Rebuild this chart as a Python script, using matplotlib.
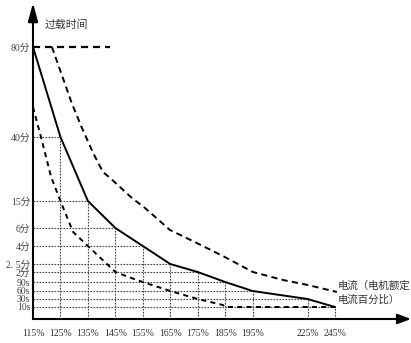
import numpy as np
import matplotlib
matplotlib.use("Agg")
import matplotlib.pyplot as plt

# ---- data ----
x_labels = ["115%", "125%", "135%", "145%", "155%", "165%", "175%", "185%", "195%", "225%", "245%"]
x_pos = [0, 1, 2, 3, 4, 5, 6, 7, 8, 10, 11]          # 195% -> 225% spans two steps

# y ticks (time in minutes) and their labels
y_ticks = [1/6, 0.5, 1, 1.5, 2, 2.5, 4, 6, 15, 40, 80]
y_labels = ["10s", "30s", "60s", "90s", "2分", "2. 5分", "4分", "6分", "15分", "40分", "80分"]

# non-uniform schematic time axis: minutes -> axis units
scale_minutes = [0, 1/6, 0.5, 1, 1.5, 2, 2.5, 4, 6, 15, 40, 80, 200]
scale_units = [0, 12, 20, 28, 37, 47, 55, 73, 91, 118, 182, 272, 542]

# solid rated curve (minutes at each current)
solid_t = [80, 40, 15, 6, 4, 2.5, 2, 1.5, 1, 0.5, 1/6]

# upper dashed curve
upper_x = [0.69, 1.41, 1.77, 2.19, 2.55, 2.81, 3.60, 4.08, 4.99, 5.97, 6.99, 8.01, 9.11, 10.02, 11.07]
upper_t = [80, 55.1, 44.4, 33.75, 26.3, 24.0, 16.2, 12.67, 5.78, 4.33, 3.08, 2.0, 1.6, 1.33, 0.94]

# lower dashed curve
lower_x = [0, 0.29, 0.66, 1.0, 1.46, 2.0, 3.0, 3.78, 4.0, 5.0, 6.0, 6.92, 7.0, 11.0]
lower_t = [53.3, 40, 24.4, 15, 5.56, 4, 2, 1.6, 1.5, 1, 0.5, 0.25, 1/6, 1/6]

# top reference line at 80 min
top_line_x = [0, 2.8]
top_line_t = [80, 80]

# ---- figure ----
W, H = 411, 343
fig = plt.figure(figsize=(W / 100, H / 100), dpi=100)
ax_left, ax_right, ax_bottom_px, ax_top_px = 33, 411, 319, 3
ax = fig.add_axes([ax_left / W, (H - ax_bottom_px) / H,
                   (ax_right - ax_left) / W, (ax_bottom_px - ax_top_px) / H])

def fwd(m):
    return np.interp(m, scale_minutes, scale_units)

def inv(u):
    return np.interp(u, scale_units, scale_minutes)

ax.set_yscale("function", functions=(fwd, inv))
ax.set_xlim(0, (ax_right - ax_left) / 27.45)
ax.set_ylim(0, float(inv(ax_bottom_px - ax_top_px)))

for s in ax.spines.values():
    s.set_visible(False)

grid_kw = dict(color="#444444", lw=0.8, linestyle=(0, (1.5, 1.2)), zorder=1)
for xp, t in zip(x_pos[1:], solid_t[1:]):
    ax.plot([0, xp], [t, t], **grid_kw)
    ax.plot([xp, xp], [0, t], **grid_kw)

ax.plot(x_pos, solid_t, color="black", lw=1.4, zorder=3)
ax.plot(upper_x, upper_t, color="black", lw=1.4, dashes=(3.2, 2.2), zorder=3)
ax.plot(lower_x, lower_t, color="black", lw=1.4, dashes=(2.6, 2.2), zorder=3)
ax.plot(top_line_x, top_line_t, color="black", lw=1.6, dashes=(3.2, 2.2), zorder=3)

tick_font = ["Liberation Serif", "Noto Sans CJK SC"]
ax.set_xticks(x_pos)
ax.set_xticklabels(x_labels, fontfamily=tick_font, fontsize=7, color="#333333")
ax.set_yticks(y_ticks)
ax.set_yticklabels(y_labels, fontfamily=tick_font, fontsize=7, color="#444444")
ax.minorticks_off()
ax.tick_params(axis="x", length=0, pad=7)
ax.tick_params(axis="y", length=0, pad=2)

arrow_kw = dict(color="black", lw=1.5, shrinkA=0, shrinkB=0, mutation_scale=10)
ax.annotate("", xy=(1, 0), xytext=(0, 0), xycoords="axes fraction",
            arrowprops=dict(arrowstyle="-|>,head_length=0.8,head_width=0.3", **arrow_kw),
            annotation_clip=False)
ax.annotate("", xy=(0, 1), xytext=(0, 0), xycoords="axes fraction",
            arrowprops=dict(arrowstyle="-|>,head_length=1.1,head_width=0.3", **arrow_kw),
            annotation_clip=False)

cjk = ["Noto Sans CJK SC", "DejaVu Sans"]
fig.text(45 / W, 1 - 25 / H, "过载时间", fontfamily=cjk, fontsize=7.8, color="#333333", va="center", ha="left")
fig.text(338 / W, 1 - 286 / H, "电流（电机额定", fontfamily=cjk, fontsize=7.5, color="#333333", va="center", ha="left")
fig.text(338 / W, 1 - 300 / H, "电流百分比）", fontfamily=cjk, fontsize=7.5, color="#333333", va="center", ha="left")

fig.savefig("out.png", dpi=100)
